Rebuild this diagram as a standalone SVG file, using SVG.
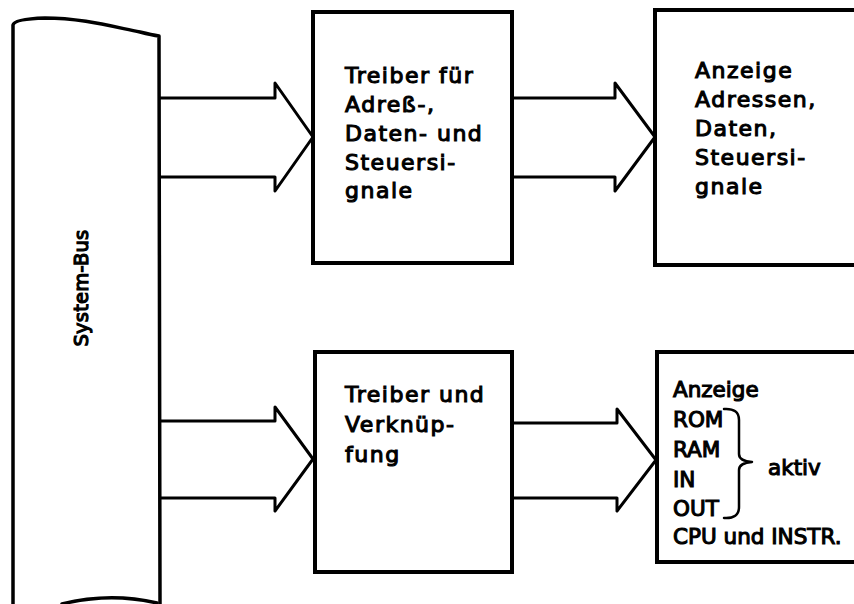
<svg xmlns="http://www.w3.org/2000/svg" width="854" height="604" viewBox="0 0 854 604">
<style>
.ln{fill:none;stroke:#000;stroke-width:3.5;stroke-linejoin:round;stroke-linecap:round}
.box{fill:#fff;stroke:#000;stroke-width:4}
.ar{fill:none;stroke:#000;stroke-width:3;stroke-linejoin:round}
text{font-family:"DejaVu Sans","Liberation Sans",sans-serif;font-size:22px;letter-spacing:1.5px;fill:#000;stroke:#000;stroke-width:1.1px}
.big{font-size:21.5px;letter-spacing:0}
.bus{font-size:19.5px;letter-spacing:0.2px;stroke-width:1.2px}
</style>
<rect width="854" height="604" fill="#fff"/>
<g id="system-bus">
<path class="ln" d="M13,604 L13,25 Q14,19 45,18 C80,18 110,26 140,32 Q152,35 159,36 L160,604"/>
<path class="ln" d="M62,604 Q110,592 157,603"/>
<text class="bus" x="88" y="288" transform="rotate(-90 88 288)" text-anchor="middle">System-Bus</text>
</g>
<g id="connectors">
<path class="ar" d="M160,98 L275,98 L275,83 L313,137 L275,191 L275,177 L160,177"/>
<path class="ar" d="M512,98 L615,98 L615,83 L655,137 L615,191 L615,177 L512,177"/>
<path class="ar" d="M160,421 L275,421 L275,407 L313,459 L275,511 L275,498 L160,498"/>
<path class="ar" d="M512,423 L617,423 L617,409 L656,460 L617,511 L617,498 L512,498"/>
</g>
<g id="treiber-adress">
<rect class="box" x="313" y="12" width="199" height="251"/>
<text x="345" y="83">Treiber für</text>
<text x="345" y="112">Adreß-,</text>
<text x="345" y="141">Daten- und</text>
<text x="345" y="170">Steuersi-</text>
<text x="345" y="198">gnale</text>
</g>
<g id="anzeige-adressen">
<rect class="box" x="655" y="10" width="220" height="255"/>
<text x="695" y="78">Anzeige</text>
<text x="695" y="107">Adressen,</text>
<text x="695" y="136">Daten,</text>
<text x="695" y="165">Steuersi-</text>
<text x="695" y="194">gnale</text>
</g>
<g id="treiber-verknuepfung">
<rect class="box" x="315" y="352" width="197" height="220"/>
<text x="345" y="402">Treiber und</text>
<text x="345" y="432">Verknüp-</text>
<text x="345" y="462">fung</text>
</g>
<g id="anzeige-aktiv">
<rect class="box" x="657" y="352" width="220" height="210"/>
<text class="big" x="673" y="397">Anzeige</text>
<text class="big" x="673" y="427">ROM</text>
<text class="big" x="673" y="457">RAM</text>
<text class="big" x="673" y="487">IN</text>
<text class="big" x="673" y="516">OUT</text>
<text class="big" x="673" y="544">CPU und INSTR.</text>
<path class="ln" style="stroke-width:2.5" d="M724,409 Q739,408 739,420 L739,454 Q739,461 752,462 Q739,463 739,470 L739,507 Q739,519 724,518"/>
<text class="big" x="768" y="475">aktiv</text>
</g>
</svg>
